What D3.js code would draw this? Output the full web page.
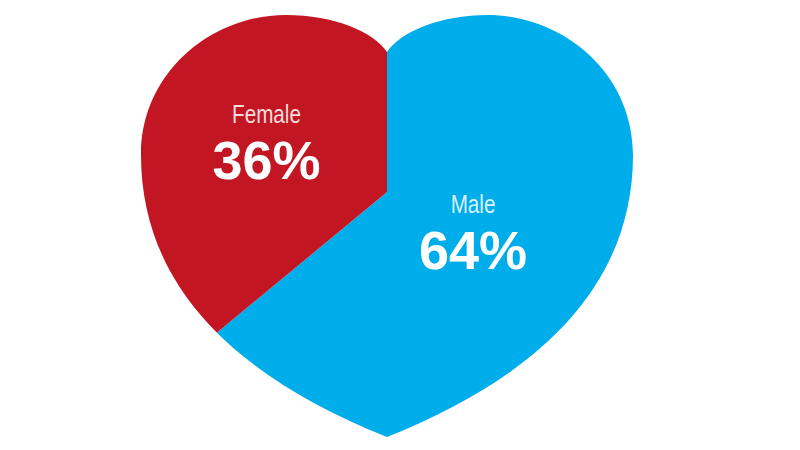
<!DOCTYPE html>
<html>
<head>
<meta charset="utf-8">
<script src="https://cdn.jsdelivr.net/npm/d3@7"></script>
<style>
  html, body { margin: 0; padding: 0; background: #ffffff; }
  svg { display: block; }
</style>
</head>
<body>
<svg id="chart" width="800" height="450"></svg>
<script>
// ---- data ----
const categories = ["Male", "Female"];
const shares = [64, 36];
const valueLabels = ["64%", "36%"];
const colors = ["#00ADEB", "#C21622"];
const nameColors = ["#D8F1FC", "#F9DCDC"];

const W = 800, H = 450;
const svg = d3.select("#chart");

// heart outline (symmetric about x = cx)
const cx = 387;
function heartPath() {
  const p = d3.path();
  const m = x => 2 * cx - x; // mirror
  p.moveTo(cx, 52);
  // right half
  p.bezierCurveTo(400, 32, 440, 15, 488, 15);
  p.bezierCurveTo(562, 15, 633, 72, 633, 155);
  p.bezierCurveTo(633, 287, 537, 377, cx, 437);
  // left half (mirrored, reversed)
  p.bezierCurveTo(m(537), 377, m(633), 287, m(633), 155);
  p.bezierCurveTo(m(633), 72, m(562), 15, m(488), 15);
  p.bezierCurveTo(m(440), 15, m(400), 32, cx, 52);
  p.closePath();
  return p.toString();
}

const defs = svg.append("defs");
defs.append("clipPath").attr("id", "heartClip")
  .append("path").attr("d", heartPath());

const pieCenter = [cx, 192];
const pie = d3.pie().sort(null).value(d => d.value);
const arcs = pie(categories.map((c, i) => ({ name: c, value: shares[i], i })));
const arc = d3.arc().innerRadius(0).outerRadius(420);

const g = svg.append("g").attr("clip-path", "url(#heartClip)");
g.selectAll("path.slice")
  .data(arcs)
  .join("path")
  .attr("class", "slice")
  .attr("transform", `translate(${pieCenter[0]},${pieCenter[1]})`)
  .attr("d", arc)
  .attr("fill", d => colors[d.data.i]);

// labels
const labelPos = [
  { x: 473, nameY: 213, valY: 269 }, // Male
  { x: 266.5, nameY: 123, valY: 179 } // Female
];

const labels = svg.append("g");
categories.forEach((c, i) => {
  labels.append("text")
    .attr("transform", `translate(${labelPos[i].x},${labelPos[i].nameY}) scale(0.81,1)`)
    .attr("text-anchor", "middle")
    .attr("font-family", "'Liberation Sans', Arial, sans-serif")
    .attr("font-size", 25.5)
    .attr("fill", nameColors[i])
    .text(c);
  labels.append("text")
    .attr("x", labelPos[i].x).attr("y", labelPos[i].valY)
    .attr("text-anchor", "middle")
    .attr("font-family", "'Liberation Sans', Arial, sans-serif")
    .attr("font-weight", "bold")
    .attr("font-size", 54)
    .attr("fill", "#ffffff")
    .text(valueLabels[i]);
});
</script>
</body>
</html>
